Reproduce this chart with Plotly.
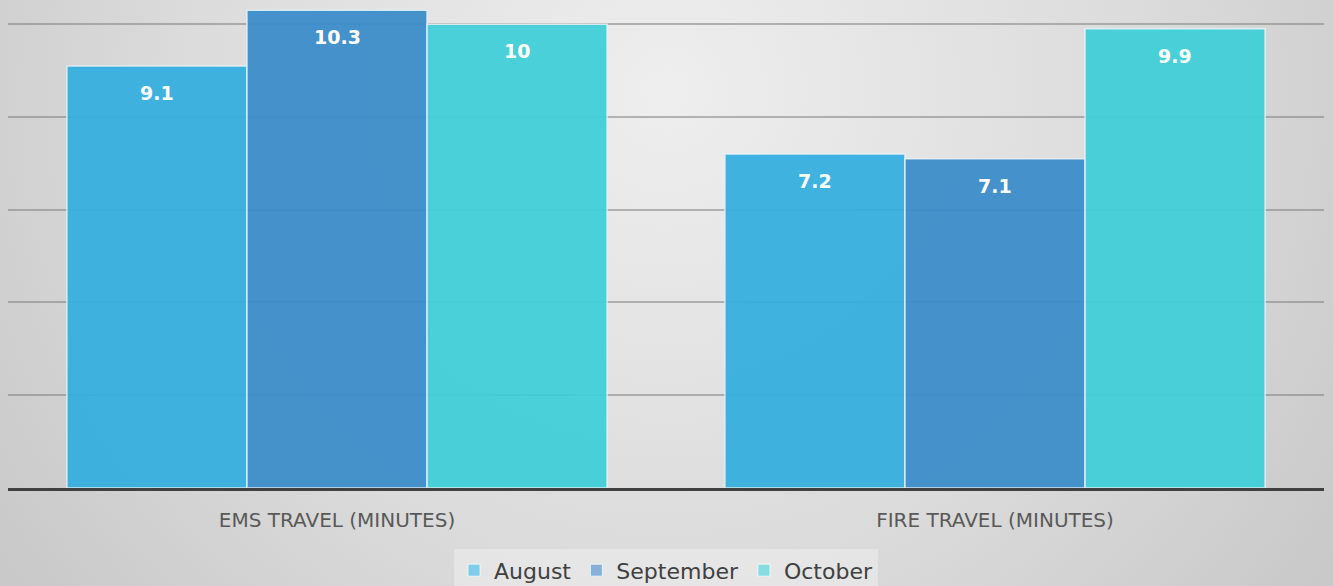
import base64
import plotly.graph_objects as go

categories = ["EMS TRAVEL (MINUTES)", "FIRE TRAVEL (MINUTES)"]
series_names = ["August", "September", "October"]
august = [9.1, 7.2]
september = [10.3, 7.1]
october = [10, 9.9]
series_values = [august, september, october]
colors = ["#35AFDF", "#3C8DCA", "#40CFD8"]
legend_colors = ["#7ECDEA", "#86B1DA", "#86DCE0"]

W, H = 1333, 586
ml, mr, mt, mb = 8, 9, 1, 98
pw, ph = W - ml - mr, H - mt - mb
FONT = "DejaVu Sans, Verdana, sans-serif"

fig = go.Figure()
for name, vals, col in zip(series_names, series_values, colors):
    fig.add_trace(go.Bar(
        name=name, x=categories, y=vals,
        marker=dict(color=col, opacity=0.94,
                    line=dict(color="rgba(235,245,250,0.85)", width=1.5)),
        showlegend=False, hoverinfo="x+y",
    ))
# legend proxies (lighter swatches) on a hidden overlay axis
for name, col in zip(series_names, legend_colors):
    fig.add_trace(go.Bar(name=name, x=[0], y=[None], xaxis="x2", yaxis="y2",
                         marker=dict(color=col, line=dict(color="rgba(255,255,255,0.7)", width=1)),
                         showlegend=True, hoverinfo="skip"))

# data labels
bar_px = pw / len(categories) * (1 - 0.179) / len(series_names)
for i, vals in enumerate(series_values):
    off = (i - 1) * bar_px
    for c, v in zip(categories, vals):
        fig.add_annotation(x=c, y=v, text=f"<b>{v:g}</b>", showarrow=False,
                           xshift=off, yshift=-27, yanchor="middle",
                           font=dict(color="white", size=19, family=FONT))

svg = f'''<svg xmlns="http://www.w3.org/2000/svg" width="{W}" height="{H}" viewBox="0 0 {W} {H}" preserveAspectRatio="none">
<defs><radialGradient id="g" cx="666" cy="90" r="810" gradientUnits="userSpaceOnUse">
<stop offset="0" stop-color="#EEEEEE"/><stop offset="0.6" stop-color="#DBDBDB"/><stop offset="1" stop-color="#C9C9C9"/></radialGradient></defs>
<rect width="{W}" height="{H}" fill="url(#g)"/></svg>'''
src = "data:image/svg+xml;base64," + base64.b64encode(svg.encode()).decode()
fig.add_layout_image(dict(source=src, xref="paper", yref="paper",
                          x=-ml / pw, y=1 + mt / ph, sizex=W / pw, sizey=H / ph,
                          xanchor="left", yanchor="top", sizing="stretch", layer="below"))

fig.update_layout(
    width=W, height=H,
    margin=dict(l=ml, r=mr, t=mt, b=mb, autoexpand=False),
    barmode="group", bargap=0.179, bargroupgap=0,
    paper_bgcolor="#D8D8D8", plot_bgcolor="rgba(0,0,0,0)",
    font=dict(family=FONT, color="#404040"),
    showlegend=True,
    legend=dict(orientation="h", x=0.5, xanchor="center", y=-0.126, yanchor="top",
                bgcolor="rgba(238,238,238,0.55)", font=dict(size=22, color="#404040"),
                itemwidth=30, traceorder="normal"),
    xaxis=dict(showline=True, linecolor="#404040", linewidth=3, ticks="",
               tickfont=dict(size=20, color="#595959"), showgrid=False,
               ticklabelstandoff=12),
    yaxis=dict(range=[0, 10.5], dtick=2, showticklabels=False, showgrid=True,
               gridcolor="rgba(120,120,120,0.5)", gridwidth=1.5, zeroline=False,
               fixedrange=True),
    xaxis2=dict(overlaying="x", visible=False, range=[10, 11]),
    yaxis2=dict(overlaying="y", visible=False, range=[0, 1]),
)

fig.write_html("out.html", config={"displayModeBar": False},
               post_script="document.body.style.margin='0';document.body.style.padding='0';document.body.style.overflow='hidden';")
